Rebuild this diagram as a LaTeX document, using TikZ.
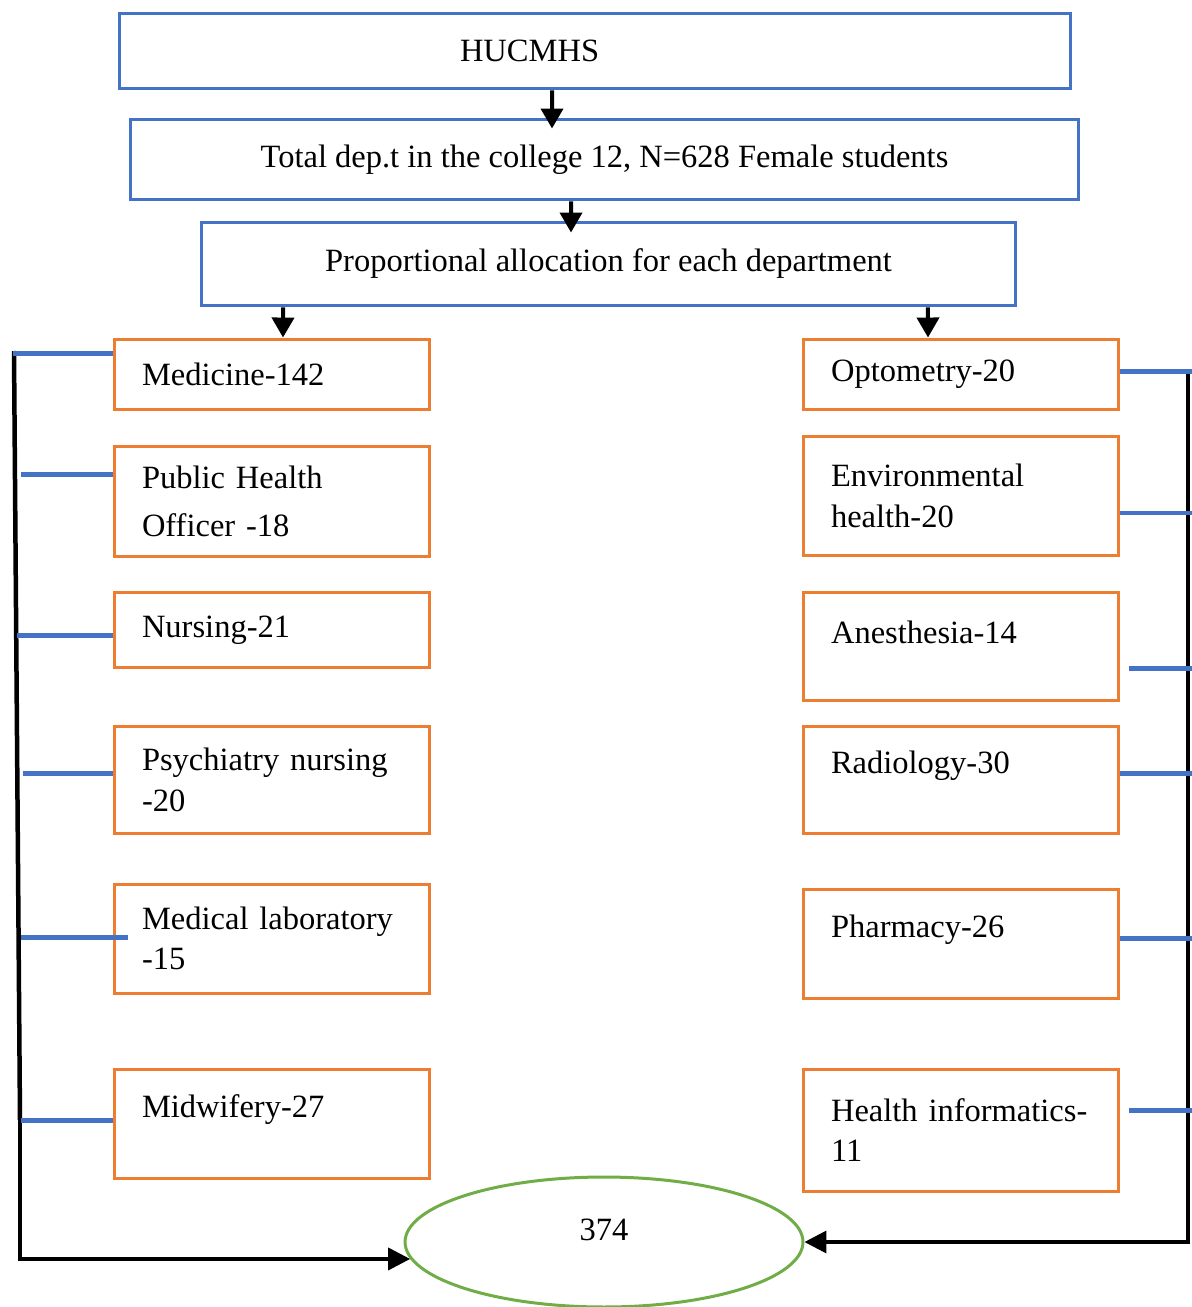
\documentclass[tikz,border=0pt]{standalone}
\usepackage{fontspec}
\setmainfont{Liberation Serif}
\usetikzlibrary{arrows.meta,positioning,shapes.geometric}
\definecolor{hdblue}{RGB}{68,114,196}
\definecolor{deporange}{RGB}{237,125,49}
\definecolor{sumgreen}{RGB}{112,173,71}

\begin{document}
\begin{tikzpicture}[x=0.02cm, y=-0.02cm,
  every node/.style={font={\fontsize{18.5}{23}\selectfont}},
  head/.style={draw=hdblue, line width=0.06cm},
  dept/.style={draw=deporange, line width=0.06cm, minimum width=6.32cm, text width=5.2cm, inner xsep=0.56cm, align=left},
  stub/.style={draw=hdblue, line width=0.1cm},
  flow/.style={line width=0.08cm, -{Triangle[length=0.4cm,width=0.44cm]}},
  bus/.style={line width=0.07cm, -{Triangle[length=0.44cm,width=0.44cm]}}]
\useasboundingbox (0,0) rectangle (1191,1307);
% top of the chart
\node[head, minimum width=19.04cm, minimum height=1.52cm, text width=19.04cm, inner xsep=0pt, align=left] (hucm) at (595,51) {\hspace*{6.82cm}HUCMHS};
\node[head, minimum width=18.98cm, minimum height=1.62cm] (tot) at (604.5,159.5) {Total dep.t in the college 12, N=628 Female students};
\node[head, minimum width=16.3cm, minimum height=1.68cm] (prop) at (608.5,264) {Proportional allocation for each department};
\draw[flow] ([xshift=-0.86cm]hucm.south) -- ([xshift=-1.05cm,yshift=-0.22cm]tot.north);
\draw[flow] ([xshift=-0.67cm]tot.south) -- ([xshift=-0.75cm,yshift=-0.24cm]prop.north);

% left departments
\node[dept, minimum height=1.42cm] (med) at (272,374.5) {Medicine-142};
\node[dept, minimum height=2.22cm] (pho) at (272,501.5) {Public Health\\[4pt]Officer -18};
\node[dept, minimum height=1.52cm] (nur) at (272,630) {Nursing-21};
\node[dept, minimum height=2.16cm] (psy) at (272,780) {Psychiatry nursing\\-20};
\node[dept, minimum height=2.18cm] (mlab) at (272,938.5) {Medical laboratory\\-15};
\node[dept, minimum height=2.18cm, text depth=0.7cm] (mid) at (272,1123.5) {Midwifery-27};

% right departments
\node[dept, minimum height=1.42cm] (opt) at (961,374.5) {Optometry-20};
\node[dept, minimum height=2.4cm] (env) at (961,496) {Environmental\\health-20};
\node[dept, minimum height=2.18cm, text depth=0.56cm] (ane) at (961,646.5) {Anesthesia-14};
\node[dept, minimum height=2.16cm, text depth=0.7cm] (rad) at (961,780) {Radiology-30};
\node[dept, minimum height=2.18cm, text depth=0.7cm] (pha) at (961,943.5) {Pharmacy-26};
\node[dept, minimum height=2.44cm] (hinf) at (961,1130) {\mbox{Health informatics-}\\11};

\draw[flow] ([xshift=-6.51cm]prop.south) -- ([xshift=0.22cm]med.north);
\draw[flow] ([xshift=6.39cm]prop.south) -- ([xshift=-0.66cm]opt.north);

% total
\node[draw=sumgreen, line width=0.06cm, ellipse, minimum width=7.96cm, minimum height=2.6cm, text depth=0.48cm] (sum) at (604,1242) {374};

% left collector
\coordinate (ltop) at (14,351);
\coordinate (lmid) at (20,1120);
\draw[line width=0.09cm] (ltop) -- (lmid);
\draw[bus] (lmid) -- (lmid |- sum.185) -- (sum.185);
\draw[stub] ([yshift=0.43cm]med.west) -- ++(-100,0);
\draw[stub] ([yshift=0.55cm]pho.west) -- ++(-92,0);
\draw[stub] ([yshift=-0.1cm]nur.west) -- ++(-96,0);
\draw[stub] ([yshift=0.14cm]psy.west) -- ++(-90,0);
\draw[stub] ([xshift=0.3cm,yshift=0.03cm]mlab.west) -- ++(-107,0);
\draw[stub] ([yshift=0.07cm]mid.west) -- ++(-92,0);

% right collector
\coordinate (rtop) at (1188,369);
\draw[bus] (rtop) -- (rtop |- sum.east) -- (sum.east);
\draw[stub] ([yshift=0.07cm]opt.east) -- ++(72,0);
\draw[stub] ([yshift=-0.34cm]env.east) -- ++(72,0);
\draw[stub] ([xshift=0.18cm,yshift=-0.43cm]ane.east) -- ++(63,0);
\draw[stub] ([yshift=0.14cm]rad.east) -- ++(72,0);
\draw[stub] ([yshift=0.11cm]pha.east) -- ++(72,0);
\draw[stub] ([xshift=0.18cm,yshift=0.4cm]hinf.east) -- ++(63,0);
\end{tikzpicture}
\end{document}
